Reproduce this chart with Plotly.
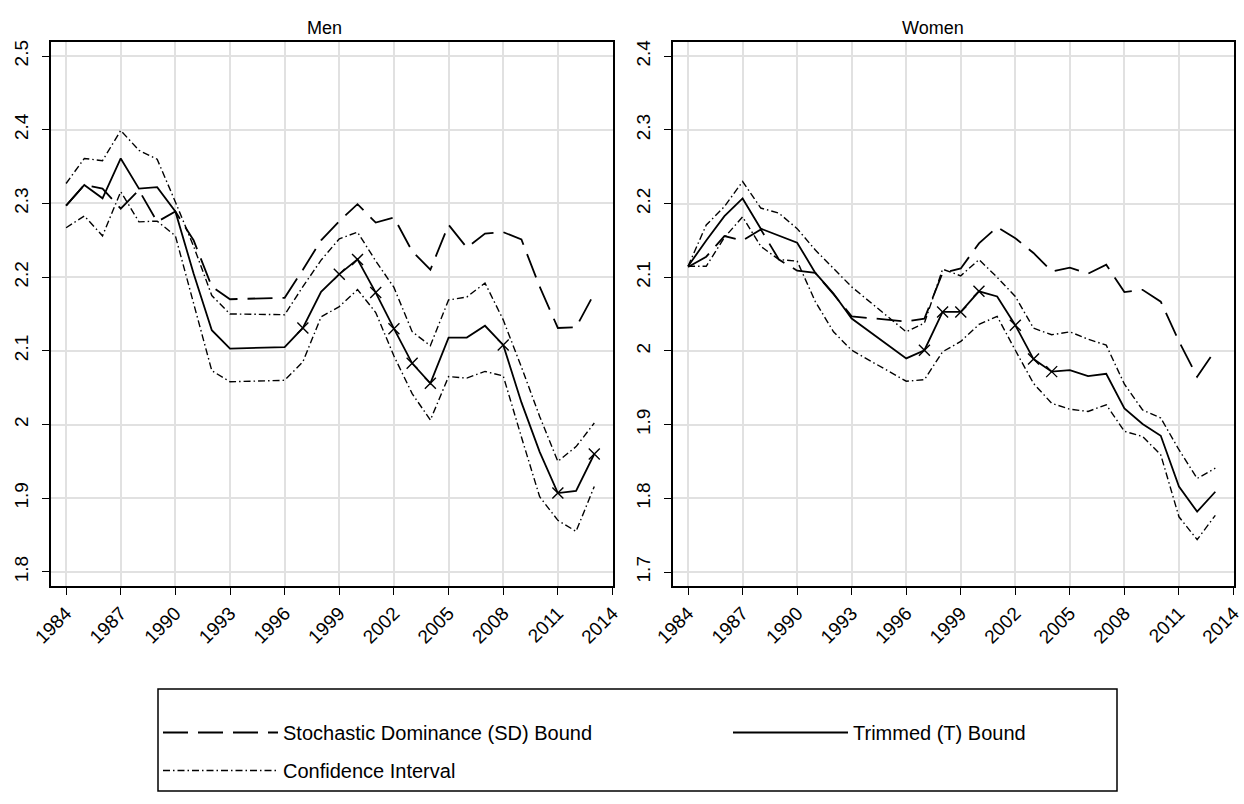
import plotly.graph_objects as go

# ---------------- data ----------------
years = [1984, 1985, 1986, 1987, 1988, 1989, 1990, 1991, 1992, 1993,
         1996, 1997, 1998, 1999, 2000, 2001, 2002, 2003, 2004, 2005,
         2006, 2007, 2008, 2009, 2010, 2011, 2012, 2013]

men_sd = [2.297, 2.325, 2.320, 2.293, 2.318, 2.275, 2.289, 2.250, 2.187, 2.170,
          2.172, 2.210, 2.250, 2.276, 2.299, 2.274, 2.281, 2.235, 2.210, 2.271,
          2.240, 2.259, 2.261, 2.251, 2.187, 2.131, 2.132, 2.178]
men_t = [2.297, 2.325, 2.307, 2.361, 2.320, 2.322, 2.289, 2.205, 2.128, 2.103,
         2.105, 2.131, 2.180, 2.204, 2.224, 2.179, 2.130, 2.083, 2.056, 2.118,
         2.118, 2.134, 2.108, 2.030, 1.963, 1.907, 1.910, 1.960]
men_ci_hi = [2.327, 2.361, 2.358, 2.399, 2.372, 2.360, 2.302, 2.242, 2.175, 2.150,
             2.149, 2.187, 2.223, 2.252, 2.261, 2.222, 2.186, 2.126, 2.107, 2.169,
             2.173, 2.192, 2.142, 2.078, 2.011, 1.950, 1.970, 2.002]
men_ci_lo = [2.267, 2.283, 2.256, 2.316, 2.275, 2.276, 2.256, 2.165, 2.073, 2.058,
             2.060, 2.085, 2.146, 2.160, 2.183, 2.152, 2.093, 2.042, 2.006, 2.065,
             2.063, 2.072, 2.066, 1.983, 1.902, 1.870, 1.855, 1.916]
men_marker_years = [1997, 1999, 2000, 2001, 2002, 2003, 2004, 2008, 2011, 2013]

women_sd = [2.114, 2.128, 2.156, 2.150, 2.165, 2.124, 2.109, 2.106, 2.077, 2.047,
            2.040, 2.044, 2.106, 2.112, 2.146, 2.168, 2.153, 2.133, 2.108, 2.113,
            2.105, 2.117, 2.080, 2.083, 2.067, 2.013, 1.965, 2.001]
women_t = [2.115, 2.150, 2.183, 2.207, 2.166, 2.157, 2.147, 2.106, 2.078, 2.044,
           1.990, 2.001, 2.053, 2.053, 2.081, 2.074, 2.035, 1.989, 1.972, 1.974,
           1.966, 1.969, 1.922, 1.901, 1.885, 1.816, 1.782, 1.809]
women_ci_hi = [2.115, 2.171, 2.196, 2.230, 2.194, 2.187, 2.166, 2.137, 2.112, 2.087,
               2.026, 2.038, 2.111, 2.102, 2.124, 2.100, 2.074, 2.031, 2.022, 2.026,
               2.016, 2.008, 1.955, 1.920, 1.909, 1.866, 1.827, 1.841]
women_ci_lo = [2.115, 2.115, 2.154, 2.182, 2.142, 2.124, 2.122, 2.067, 2.026, 2.001,
               1.959, 1.961, 1.999, 2.013, 2.036, 2.047, 2.001, 1.956, 1.929, 1.921,
               1.918, 1.927, 1.891, 1.884, 1.859, 1.775, 1.744, 1.777]
women_marker_years = [1997, 1998, 1999, 2000, 2002, 2003, 2004]

panel_titles = ["Men", "Women"]
x_ticks = [1984, 1987, 1990, 1993, 1996, 1999, 2002, 2005, 2008, 2011, 2014]
x_tick_labels = [str(v) for v in x_ticks]
men_y_ticks = [1.8, 1.9, 2.0, 2.1, 2.2, 2.3, 2.4, 2.5]
men_y_labels = ["1.8", "1.9", "2", "2.1", "2.2", "2.3", "2.4", "2.5"]
women_y_ticks = [1.7, 1.8, 1.9, 2.0, 2.1, 2.2, 2.3, 2.4]
women_y_labels = ["1.7", "1.8", "1.9", "2", "2.1", "2.2", "2.3", "2.4"]

legend_sd = "Stochastic Dominance (SD) Bound"
legend_t = "Trimmed (T) Bound"
legend_ci = "Confidence Interval"

# ---------------- layout helpers ----------------
W, H = 1244, 804
FONT = "Liberation Sans, Arial, Helvetica, sans-serif"


def fx(p):
    return p / W


def fy(p):
    return 1 - p / H


SD_DASH = "25px,10px"
CI_DASH = "7px,3px,1.5px,3px"

fig = go.Figure()

panels = [
    ("x", "y", men_sd, men_t, men_ci_hi, men_ci_lo, men_marker_years),
    ("x2", "y2", women_sd, women_t, women_ci_hi, women_ci_lo, women_marker_years),
]

for i, (xa, ya, sd, t, hi, lo, myears) in enumerate(panels):
    first = i == 0
    fig.add_trace(go.Scatter(
        x=years, y=sd, mode="lines", name=legend_sd,
        line=dict(color="black", width=1.8, dash=SD_DASH),
        legend="legend", legendgroup="sd", showlegend=first,
        xaxis=xa, yaxis=ya, hoverinfo="skip"))
    fig.add_trace(go.Scatter(
        x=years, y=hi, mode="lines", name=legend_ci,
        line=dict(color="black", width=1.4, dash=CI_DASH),
        legend="legend", legendgroup="ci", showlegend=first,
        xaxis=xa, yaxis=ya, hoverinfo="skip"))
    fig.add_trace(go.Scatter(
        x=years, y=lo, mode="lines", name=legend_ci,
        line=dict(color="black", width=1.4, dash=CI_DASH),
        legend="legend", legendgroup="ci", showlegend=False,
        xaxis=xa, yaxis=ya, hoverinfo="skip"))
    fig.add_trace(go.Scatter(
        x=years, y=t, mode="lines", name=legend_t,
        line=dict(color="black", width=1.8),
        legend="legend2", legendgroup="t", showlegend=first,
        xaxis=xa, yaxis=ya, hoverinfo="skip"))
    fig.add_trace(go.Scatter(
        x=myears, y=[t[years.index(yv)] for yv in myears], mode="markers",
        marker=dict(symbol="x-thin", size=11, color="black",
                    line=dict(color="black", width=1.4)),
        showlegend=False, xaxis=xa, yaxis=ya, hoverinfo="skip"))

x_range = [1983.155, 2014.0]
y_dom = [fy(586), fy(42)]
TICK_FONT = dict(family=FONT, size=19, color="black")

common_x = dict(
    range=x_range, tickmode="array", tickvals=x_ticks, ticktext=x_tick_labels,
    tickangle=-45, ticks="outside", ticklen=7, tickwidth=1.2, tickcolor="black",
    showline=True, linecolor="black", linewidth=1.5, mirror=True,
    showgrid=True, gridcolor="#e1e1e1", gridwidth=1.6, zeroline=False,
    tickfont=TICK_FONT, automargin=False, ticklabeloverflow="allow",
)
common_y = dict(
    tickmode="array", tickangle=-90, ticks="outside", ticklen=7, tickwidth=1.2,
    tickcolor="black", showline=True, linecolor="black", linewidth=1.5, mirror=True,
    showgrid=True, gridcolor="#e1e1e1", gridwidth=1.6, zeroline=False,
    tickfont=TICK_FONT, domain=y_dom, ticklabelstandoff=6, automargin=False,
    ticklabeloverflow="allow",
)

LEG_FONT = dict(family=FONT, size=20, color="black")

fig.update_layout(
    width=W, height=H,
    margin=dict(l=0, r=0, t=0, b=0, pad=0, autoexpand=False),
    paper_bgcolor="white", plot_bgcolor="white",
    font=dict(family=FONT, color="black"),
    xaxis=dict(common_x, domain=[fx(50.7), fx(612.5)], anchor="y"),
    yaxis=dict(common_y, range=[1.7809, 2.519], tickvals=men_y_ticks,
               ticktext=men_y_labels, anchor="x"),
    xaxis2=dict(common_x, domain=[fx(672.7), fx(1233.5)], anchor="y2"),
    yaxis2=dict(common_y, range=[1.6811, 2.4193], tickvals=women_y_ticks,
                ticktext=women_y_labels, anchor="x2"),
    legend=dict(
        x=fx(158), y=fy(713), xanchor="left", yanchor="top",
        orientation="v", traceorder="grouped", tracegroupgap=9,
        itemwidth=115, bgcolor="rgba(0,0,0,0)", borderwidth=0,
        font=LEG_FONT,
    ),
    legend2=dict(
        x=fx(728), y=fy(713), xanchor="left", yanchor="top",
        orientation="v", itemwidth=115, bgcolor="rgba(0,0,0,0)", borderwidth=0,
        font=LEG_FONT,
    ),
    shapes=[dict(type="rect", xref="paper", yref="paper",
                 x0=fx(158), x1=fx(1117), y0=fy(791), y1=fy(689),
                 line=dict(color="black", width=1.5), fillcolor="rgba(0,0,0,0)")],
    annotations=[
        dict(text=panel_titles[0], x=fx(324), y=fy(28), xref="paper", yref="paper",
             xanchor="center", yanchor="middle", showarrow=False,
             font=dict(family=FONT, size=18, color="black")),
        dict(text=panel_titles[1], x=fx(933), y=fy(28), xref="paper", yref="paper",
             xanchor="center", yanchor="middle", showarrow=False,
             font=dict(family=FONT, size=18, color="black")),
    ],
)

fig.write_html("out.html")
